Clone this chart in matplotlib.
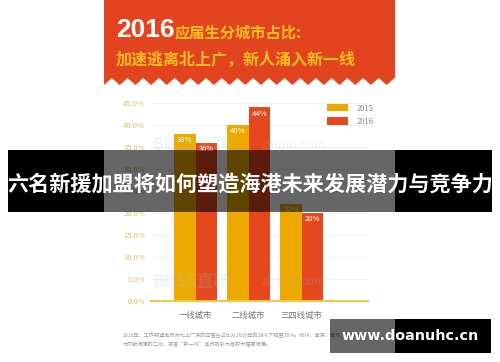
import numpy as np
import matplotlib.pyplot as plt
from matplotlib.patches import Rectangle, Polygon

plt.rcParams['font.family'] = ['Noto Sans CJK SC', 'DejaVu Sans']

# dados
categorias = ["一线城市", "二线城市", "三四线城市"]
anos = ["2015", "2016"]
valores_2015 = [38, 40, 22]
valores_2016 = [36, 44, 20]
rotulos_y = [0, 5, 10, 15, 20, 25, 30, 35, 40, 45]

titulo_ano = "2016"
titulo_1 = "应届生分城市占比:"
titulo_2 = "加速逃离北上广，新人涌入新一线"
nota_1 = "2016年，工作期望城市为北上广深的应届生占比从2015年的38%下降至36%。杭州、南京、青岛、苏州等经济活"
nota_2 = "力不断增强的二线，或者“新一线”城市吸引力有较大幅度增强。"
faixa = "六名新援加盟将如何塑造海港未来发展潜力与竞争力"
marca = "www.doanuhc.cn"

amarelo = '#EDA900'
vermelho = '#E5481F'
laranja = '#E2441F'
amarelo_txt = '#F8BF1E'

W, H = 500, 362
fig = plt.figure(figsize=(W / 100, H / 100), dpi=100)
fig.patch.set_facecolor('white')

# fundo em coordenadas de pixel
ax_bg = fig.add_axes([0, 0, 1, 1], zorder=0)
ax_bg.set_xlim(0, W)
ax_bg.set_ylim(H, 0)
ax_bg.axis('off')

# cabeçalho laranja com borda em zigue-zague
p = 15.7
xs = np.arange(104, 395 + 0.01, p / 2)
ys = np.where(np.arange(len(xs)) % 2 == 0, 85, 78)
pts = [(104, 0), (395, 0), (395, 78)] + list(zip(xs[::-1], ys[::-1]))
ax_bg.add_patch(Polygon(pts, closed=True, color=laranja, lw=0))

ax_bg.text(116, 37, titulo_ano, color='white', fontsize=19, weight='bold',
           family='Liberation Sans', va='baseline')
ax_bg.text(175, 32, titulo_1, color=amarelo_txt, fontsize=11, weight='bold', va='center')
ax_bg.text(116, 60, titulo_2, color=amarelo_txt, fontsize=11.5, weight='bold', va='center')

ax_bg.text(123, 335, nota_1, color='#999999', fontsize=3.7, va='center')
ax_bg.text(123, 344, nota_2, color='#999999', fontsize=3.7, va='center')

# gráfico de barras
y0, px_pct = 301, 4.4
ytop = 46
ax = fig.add_axes([151 / W, (H - y0) / H, 217 / W, ytop * px_pct / H], zorder=1)
ax.patch.set_alpha(0)

x = np.arange(len(categorias))
largura = 0.4
b1 = ax.bar(x - largura / 2, valores_2015, largura, color=amarelo, label=anos[0])
b2 = ax.bar(x + largura / 2, valores_2016, largura, color=vermelho, label=anos[1])

for barras, vals in [(b1, valores_2015), (b2, valores_2016)]:
    for b, v in zip(barras, vals):
        ax.text(b.get_x() + b.get_width() / 2, v - 1.4, f"{v}%", color='white',
                fontsize=5.5, ha='center', va='center')

ax.set_xlim(-0.84, 3.25)
ax.set_ylim(0, ytop)
ax.set_yticks(rotulos_y)
ax.set_yticklabels([f"{v:.1f}%" for v in rotulos_y])
ax.set_xticks(x)
ax.set_xticklabels(categorias)
ax.tick_params(axis='y', length=0, pad=4.3, labelsize=5.5, labelcolor='#D5C46E')
ax.tick_params(axis='x', length=0, pad=7, labelsize=6, labelcolor='#777777')
ax.set_axisbelow(True)
ax.yaxis.grid(True, color='#EEEEEE', lw=0.6)
for s in ['left', 'right', 'top']:
    ax.spines[s].set_visible(False)
ax.spines['bottom'].set_color('#F2C64A')
ax.spines['bottom'].set_linewidth(1.5)

ax.legend(loc='upper left', bbox_to_anchor=(327 / W, 1 - 104 / H),
          bbox_transform=fig.transFigure, frameon=False, fontsize=6,
          borderpad=0, borderaxespad=0, handlelength=2.5, handleheight=1.0,
          handletextpad=1.1, labelspacing=0.55, labelcolor='#777777',
          prop={'family': 'Liberation Serif', 'size': 6})

# camada superior: marca d'água, faixa e site
ax_top = fig.add_axes([0, 0, 1, 1], zorder=2)
ax_top.set_xlim(0, W)
ax_top.set_ylim(H, 0)
ax_top.axis('off')
ax_top.patch.set_alpha(0)

for yy in [145, 282]:
    ax_top.text(152, yy, "BOSS直聘", color='#8FD0E0', alpha=0.18, fontsize=12,
                weight='bold', va='center')
    ax_top.text(262, yy, "zhipin.com", color='#8FD0E0', alpha=0.18, fontsize=9,
                va='center')

ax_top.add_patch(Rectangle((8, 150), 96, 62, color='black', lw=0))
ax_top.add_patch(Rectangle((395, 150), 97, 62, color='black', lw=0))
ax_top.add_patch(Rectangle((104, 150), 291, 62, color='black', alpha=0.6, lw=0))
ax_top.text(250.5, 184, faixa, color='white', fontsize=15.2, weight='bold',
            ha='center', va='center')

ax_top.add_patch(Rectangle((330, 319), 65, 34, color='black', alpha=0.6, lw=0))
ax_top.add_patch(Rectangle((395, 319), 96, 34, color='black', lw=0))
ax_top.text(410, 336, marca, color='white', fontsize=10.3, weight='bold',
            family='DejaVu Sans', ha='center', va='center')

fig.savefig('out.png', dpi=100)
